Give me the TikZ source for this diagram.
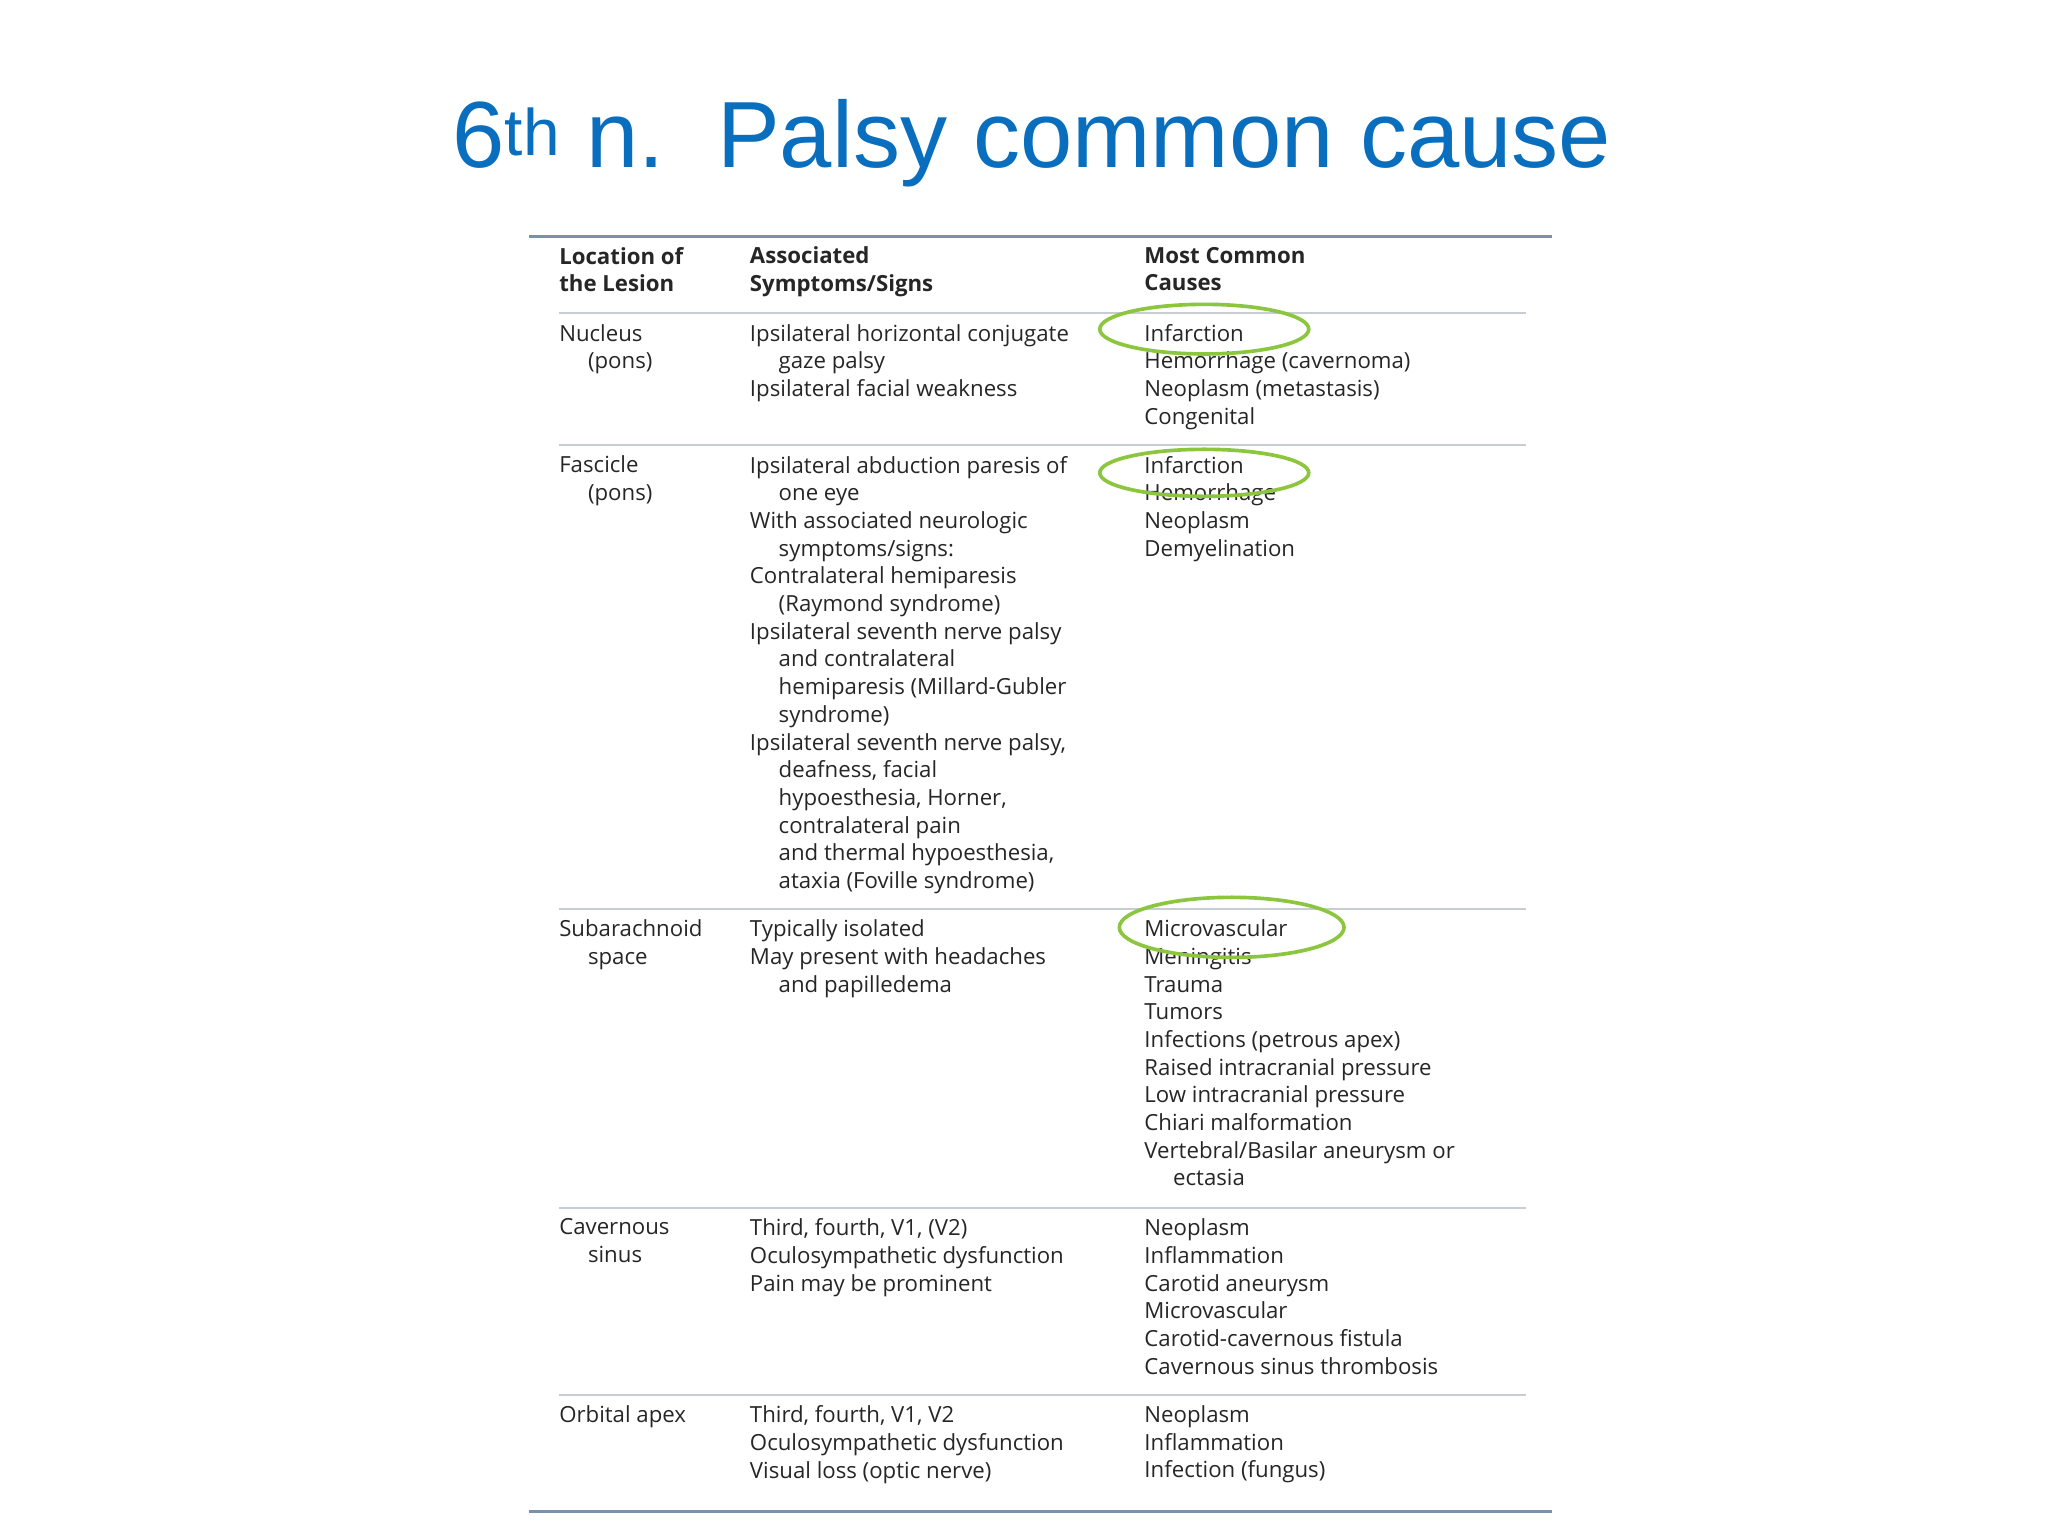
\documentclass[tikz,border=0pt]{standalone}
\usepackage{fontspec}
\setmainfont{Open Sans}
\newfontfamily\titlefont{Liberation Sans}
\definecolor{ttl}{RGB}{10,110,190}
\definecolor{rulec}{RGB}{120,145,175}
\definecolor{thinr}{RGB}{200,205,212}
\definecolor{grn}{RGB}{140,198,63}
\begin{document}
\begin{tikzpicture}[x=1pt,y=-1pt,
  cell/.style={anchor=north west,inner sep=0pt,align=left,font=\fontsize{17}{21.2}\selectfont,text=black!85},
  hd/.style={cell,font=\fontsize{17}{21.2}\selectfont\bfseries},
  oval/.style={draw=grn,line width=2.8pt,ellipse}]
\useasboundingbox (0,0) rectangle (1568,1176);
\node[anchor=base,inner sep=0,text=ttl,font=\titlefont\fontsize{72}{80}\selectfont] (title) at (790,128) {6\textsuperscript{th} n.\ \ Palsy common cause};
\def\ind{\hspace*{22pt}}
\draw[rulec,line width=2pt] (405,181) -- (1188,181);
\draw[rulec,line width=2pt] (405,1157) -- (1188,1157);
\foreach \yy in {240,341,696,925,1068} \draw[thinr,line width=1.5pt] (428,\yy) -- (1168,\yy);
\node[hd] (h1) at (428,189) {Location of\\the Lesion};
\node[hd] (h2) at (574,189) {Associated\\Symptoms/Signs};
\node[hd] (h3) at (876,189) {Most Common\\Causes};
\node[cell] (a1) at (428,248) {Nucleus\\\ind(pons)};
\node[cell] (b1) at (574,248) {Ipsilateral horizontal conjugate\\\ind gaze palsy\\Ipsilateral facial weakness};
\node[cell] (c1) at (876,248) {Infarction\\Hemorrhage (cavernoma)\\Neoplasm (metastasis)\\Congenital};
\node[cell] (a2) at (428,349) {Fascicle\\\ind(pons)};
\node[cell] (b2) at (574,349) {Ipsilateral abduction paresis of\\\ind one eye\\With associated neurologic\\\ind symptoms/signs:\\Contralateral hemiparesis\\\ind(Raymond syndrome)\\Ipsilateral seventh nerve palsy\\\ind and contralateral\\\ind hemiparesis (Millard-Gubler\\\ind syndrome)\\Ipsilateral seventh nerve palsy,\\\ind deafness, facial\\\ind hypoesthesia, Horner,\\\ind contralateral pain\\\ind and thermal hypoesthesia,\\\ind ataxia (Foville syndrome)};
\node[cell] (c2) at (876,349) {Infarction\\Hemorrhage\\Neoplasm\\Demyelination};
\node[cell] (a3) at (428,704) {Subarachnoid\\\ind space};
\node[cell] (b3) at (574,704) {Typically isolated\\May present with headaches\\\ind and papilledema};
\node[cell] (c3) at (876,704) {Microvascular\\Meningitis\\Trauma\\Tumors\\Infections (petrous apex)\\Raised intracranial pressure\\Low intracranial pressure\\Chiari malformation\\Vertebral/Basilar aneurysm or\\\ind ectasia};
\node[cell] (a4) at (428,933) {Cavernous\\\ind sinus};
\node[cell] (b4) at (574,933) {Third, fourth, V1, (V2)\\Oculosympathetic dysfunction\\Pain may be prominent};
\node[cell] (c4) at (876,933) {Neoplasm\\Inflammation\\Carotid aneurysm\\Microvascular\\Carotid-cavernous fistula\\Cavernous sinus thrombosis};
\node[cell] (a5) at (428,1076) {Orbital apex};
\node[cell] (b5) at (574,1076) {Third, fourth, V1, V2\\Oculosympathetic dysfunction\\Visual loss (optic nerve)};
\node[cell] (c5) at (876,1076) {Neoplasm\\Inflammation\\Infection (fungus)};
\draw[grn,line width=2.8pt] (922,252) ellipse (80 and 19) (922,362) ellipse (80 and 18) (943,710) ellipse (86 and 23);
\end{tikzpicture}
\end{document}
